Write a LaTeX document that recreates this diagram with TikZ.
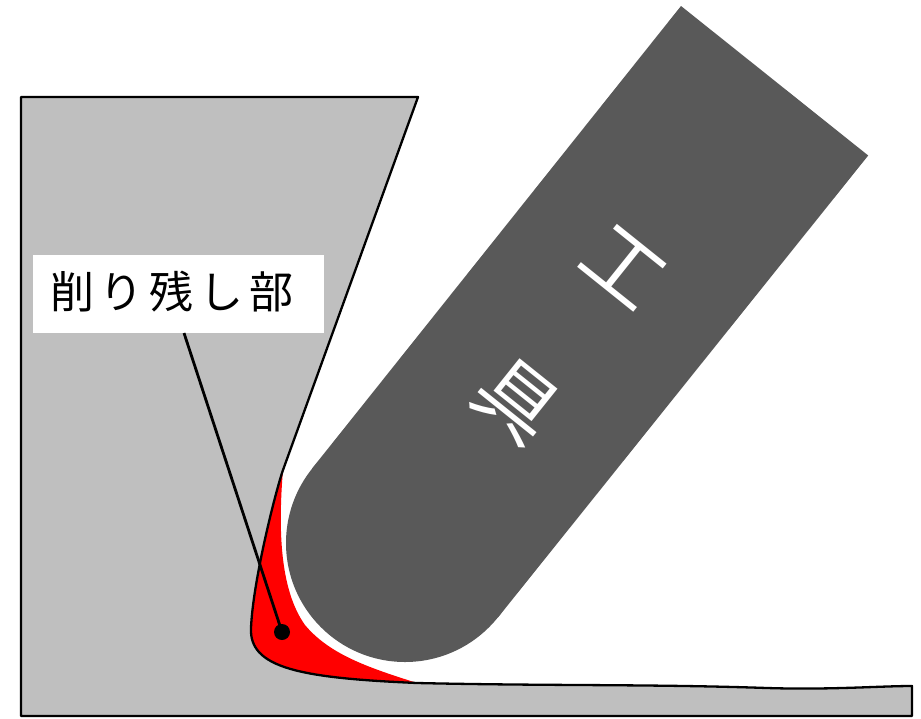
\documentclass[tikz,border=0pt]{standalone}
\usepackage{fontspec}
\newfontfamily\jpfont{Noto Sans CJK JP}
\definecolor{wpgray}{HTML}{BFBFBF}
\definecolor{toolgray}{HTML}{595959}
\definecolor{residue}{HTML}{FF0000}
\begin{document}
\begin{tikzpicture}[x=1pt,y=-1pt,
  workpiece/.style={fill=wpgray,draw=black,line width=2.3pt,line join=round},
  residuefill/.style={fill=residue},
  toolbody/.style={fill=toolgray},
  tooltext/.style={text=white,font=\jpfont\fontsize{80}{80}\selectfont,inner sep=0pt,rotate=-38.7},
  labelbox/.style={fill=white,minimum width=291pt,minimum height=78pt,inner sep=0pt},
  labeltext/.style={font=\jpfont\fontsize{44}{44}\selectfont,inner sep=0pt},
  leader/.style={draw=black,line width=2.8pt},
  leaderdot/.style={circle,fill=black,minimum size=16pt,inner sep=0pt}]
\useasboundingbox (0,0) rectangle (921,718);

% uncut material left between the wall and the tool path
\fill[residuefill] (283,470) .. controls (278,530) and (280,590) .. (305,625)
  .. controls (330,655) and (370,668) .. (417,683)
  .. controls (300,678) and (249,668) .. (251,628)
  .. controls (253,580) and (276,490) .. (283,470) -- cycle;

% workpiece section
\filldraw[workpiece] (21,97) -- (418,97) -- (283,470)
  .. controls (276,490) and (253,580) .. (251,628)
  .. controls (249,668) and (300,678) .. (417,683)
  .. controls (550,686) and (650,684) .. (767,688)
  .. controls (830,690) and (880,686) .. (912,686)
  -- (912,716) -- (21,716) -- cycle;

% tool: straight shank with a round end
\coordinate (toolA) at (681,6);
\coordinate (toolB) at (868.2,155.5);
\coordinate (toolR) at (497.9,617.5);
\coordinate (toolL) at (312.1,468.5);
\coordinate (toolC) at (405,543);
\fill[toolbody] (toolA) -- (toolB) -- (toolR) -- (toolL) -- cycle;
\fill[toolbody] (toolC) circle[radius=119];
\node[tooltext] (toolk1) at (624,267) {工};
\node[tooltext] (toolk2) at (517,401) {具};

% callout
\node[labelbox] (callbox) at (178.5,294) {};
\node[labeltext] (calltext) at (172,292) {削\kern6pt\relax り\kern6pt\relax 残\kern6pt\relax し\kern6pt\relax 部};
\coordinate (leadtop) at (184,333);
\node[leaderdot] (dot) at (282,632) {};
\draw[leader] (leadtop) -- (dot.center);
\end{tikzpicture}
\end{document}
